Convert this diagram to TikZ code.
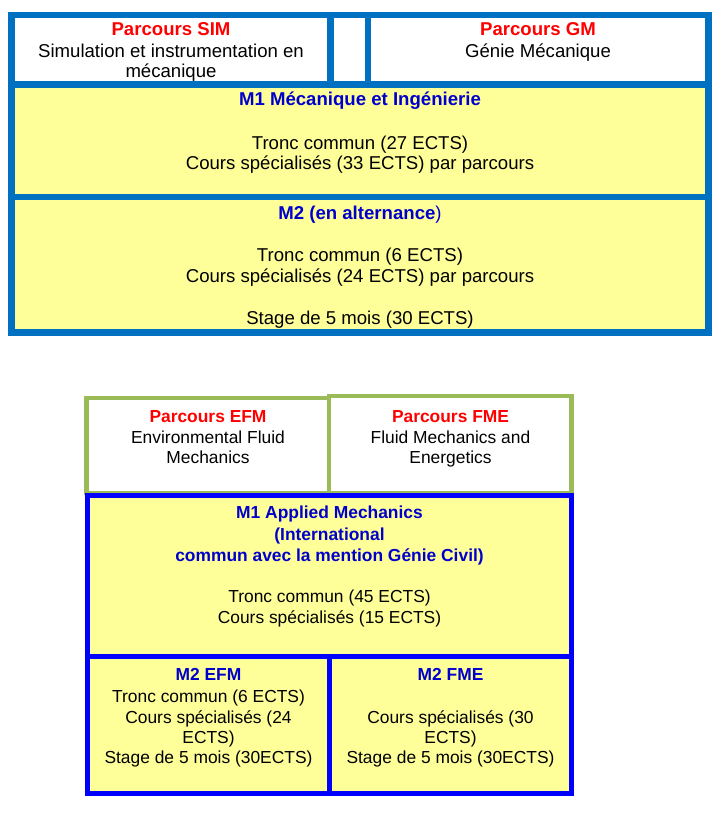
\documentclass[tikz,border=0pt]{standalone}
\usepackage{fontspec}
\setmainfont{Liberation Sans}
\definecolor{topblue}{RGB}{0,112,192}
\definecolor{botblue}{RGB}{0,0,255}
\definecolor{cellgreen}{RGB}{155,187,89}
\definecolor{cellyellow}{RGB}{255,255,153}
\definecolor{headred}{RGB}{255,0,0}
\definecolor{headblue}{RGB}{0,0,204}
\begin{document}
\begin{tikzpicture}[x=1pt,y=-1pt,
  cell/.style={rectangle, inner sep=0pt, outer sep=0pt, anchor=north west},
  topcell/.style={cell, draw=topblue, line width=6.5pt},
  greencell/.style={cell, draw=cellgreen, line width=4.5pt, fill=white},
  bluecell/.style={cell, draw=botblue, line width=5.5pt, fill=cellyellow},
  ttxt/.style={anchor=base, inner sep=0pt, font=\fontsize{18.6}{20}\selectfont},
  ttit/.style={ttxt, font=\fontsize{18.6}{20}\selectfont\bfseries},
  btxt/.style={anchor=base, inner sep=0pt, font=\fontsize{17.4}{20}\selectfont},
  btit/.style={btxt, font=\fontsize{17.4}{20}\selectfont\bfseries},
]
\useasboundingbox (0,0) rectangle (721,813);

% ---------- top table ----------
\node[topcell, fill=white, minimum width=318.8pt, minimum height=69.5pt] (sim) at (11.5,15) {};
\node[topcell, fill=white, minimum width=37.5pt, minimum height=69.5pt] (gap) at (330.3,15) {};
\node[topcell, fill=white, minimum width=340.5pt, minimum height=69.5pt] (gm) at (367.8,15) {};
\node[topcell, fill=cellyellow, minimum width=696.8pt, minimum height=112.5pt] (m1) at (11.5,84.5) {};
\node[topcell, fill=cellyellow, minimum width=696.8pt, minimum height=135.5pt] (m2) at (11.5,197) {};

\node[ttit, text=headred] (simt) at (171,35.5) {Parcours SIM};
\node[ttxt] (sim1) at (171,57.5) {Simulation et instrumentation en};
\node[ttxt] (sim2) at (171,77.5) {mécanique};
\node[ttit, text=headred] (gmt) at (538,35.5) {Parcours GM};
\node[ttxt] (gm1) at (538,57.5) {Génie Mécanique};

\node[ttit, text=headblue] (m1t) at (360,105.5) {M1 Mécanique et Ingénierie};
\node[ttxt] (m1a) at (360,149.5) {Tronc commun (27 ECTS)};
\node[ttxt] (m1b) at (360,169.5) {Cours spécialisés (33 ECTS) par parcours};

\node[ttxt, text=headblue] (m2t) at (360,219.5) {\textbf{M2 (en alternance})};
\node[ttxt] (m2a) at (360,261.5) {Tronc commun (6 ECTS)};
\node[ttxt] (m2b) at (360,282.5) {Cours spécialisés (24 ECTS) par parcours};
\node[ttxt] (m2c) at (360,324.5) {Stage de 5 mois (30 ECTS)};

% ---------- bottom table ----------
\node[greencell, minimum width=242.7pt, minimum height=95pt] (efm) at (86.5,398) {};
\node[greencell, minimum width=242.5pt, minimum height=97pt] (fme) at (329.2,396) {};
\node[bluecell, minimum width=484pt, minimum height=160.8pt] (bm1) at (87.5,495.5) {};
\node[bluecell, minimum width=242pt, minimum height=137.4pt] (m2efm) at (87.5,656.3) {};
\node[bluecell, minimum width=242pt, minimum height=137.4pt] (m2fme) at (329.5,656.3) {};

\node[btit, text=headred] (efmt) at (208,422) {Parcours EFM};
\node[btxt] (efm1) at (208,443) {Environmental Fluid};
\node[btxt] (efm2) at (208,463.5) {Mechanics};
\node[btit, text=headred] (fmet) at (450.5,422) {Parcours FME};
\node[btxt] (fme1) at (450.5,443) {Fluid Mechanics and};
\node[btxt] (fme2) at (450.5,463.5) {Energetics};

\node[btit, text=headblue] (bm1t) at (329.5,518.5) {M1 Applied Mechanics};
\node[btit, text=headblue] (bm1u) at (329.5,540) {(International};
\node[btit, text=headblue] (bm1v) at (329.5,561) {commun avec la mention Génie Civil)};
\node[btxt] (bm1a) at (329.5,602) {Tronc commun (45 ECTS)};
\node[btxt] (bm1b) at (329.5,623.5) {Cours spécialisés (15 ECTS)};

\node[btit, text=headblue] (efmt2) at (208.5,680) {M2 EFM};
\node[btxt] (efma) at (208.5,702) {Tronc commun (6 ECTS)};
\node[btxt] (efmb) at (208.5,723) {Cours spécialisés (24};
\node[btxt] (efmc) at (208.5,743.5) {ECTS)};
\node[btxt] (efmd) at (208.5,763.5) {Stage de 5 mois (30ECTS)};

\node[btit, text=headblue] (fmet2) at (450.5,680) {M2 FME};
\node[btxt] (fmeb) at (450.5,723) {Cours spécialisés (30};
\node[btxt] (fmec) at (450.5,743.5) {ECTS)};
\node[btxt] (fmed) at (450.5,763.5) {Stage de 5 mois (30ECTS)};
\end{tikzpicture}
\end{document}
